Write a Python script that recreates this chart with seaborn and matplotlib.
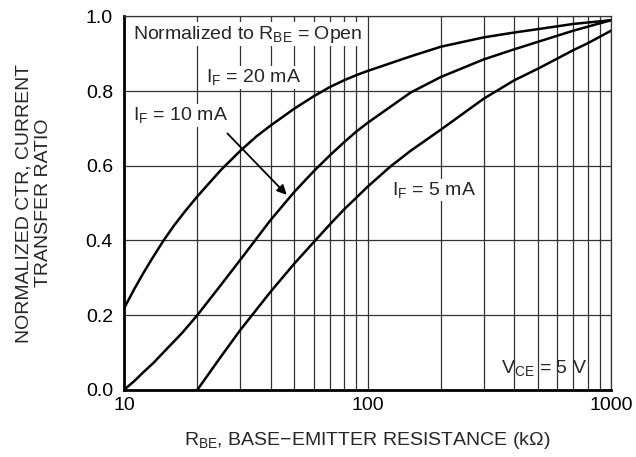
import numpy as np
import pandas as pd
import matplotlib
matplotlib.use('Agg')
import matplotlib.pyplot as plt
import seaborn as sns
from matplotlib.ticker import LogLocator, FixedLocator, NullFormatter

# values (R_BE in kOhm, normalized CTR)
r_20 = [10, 11, 12, 13, 14.5, 16, 17.8, 20, 25, 30, 35, 40, 50, 60, 70, 80, 90, 100, 150, 200, 300, 400, 500, 700, 1000]
ctr_20 = [0.218, 0.269, 0.3125, 0.350, 0.399, 0.439, 0.478, 0.518, 0.589, 0.64, 0.679, 0.708, 0.753, 0.786, 0.811,
          0.829, 0.843, 0.854, 0.893, 0.919, 0.944, 0.957, 0.966, 0.98, 0.99]

r_10 = [10, 11, 12, 13.2, 15, 17.3, 20, 25, 30, 40, 50, 60, 70, 80, 90, 100, 150, 200, 300, 400, 500, 700, 1000]
ctr_10 = [0.0, 0.023, 0.047, 0.072, 0.11, 0.152, 0.2, 0.281, 0.348, 0.455, 0.53, 0.585, 0.628, 0.663, 0.692, 0.715,
          0.796, 0.838, 0.885, 0.912, 0.932, 0.962, 0.99]

r_5 = [20, 25, 30, 40, 50, 60, 70, 80, 90, 100, 124, 150, 200, 300, 400, 500, 600, 700, 800, 1000]
ctr_5 = [0.0, 0.089, 0.16, 0.263, 0.338, 0.395, 0.443, 0.483, 0.515, 0.544, 0.598, 0.64, 0.697, 0.78,
         0.829, 0.86, 0.887, 0.91, 0.928, 0.962]

df = pd.concat([
    pd.DataFrame({'R': r_20, 'CTR': ctr_20, 'IF': '20 mA'}),
    pd.DataFrame({'R': r_10, 'CTR': ctr_10, 'IF': '10 mA'}),
    pd.DataFrame({'R': r_5, 'CTR': ctr_5, 'IF': '5 mA'}),
])

sns.set_theme(style='white')
plt.rcParams['font.family'] = ['Liberation Sans', 'DejaVu Sans']
plt.rcParams['mathtext.fontset'] = 'custom'
plt.rcParams['mathtext.rm'] = 'Liberation Sans'
fs = 14

fig, ax = plt.subplots(figsize=(6.36, 4.57), dpi=100)
fig.subplots_adjust(left=0.195, right=0.961, top=0.964, bottom=0.147)

sns.lineplot(data=df, x='R', y='CTR', units='IF', estimator=None, color='black',
             lw=1.8, ax=ax, legend=False, sort=False)

ax.set_xscale('log')
ax.set_xlim(10, 1000)
ax.set_ylim(0, 1.0)
ax.xaxis.set_major_locator(FixedLocator([10, 100, 1000]))
ax.set_xticklabels(['10', '100', '1000'])
ax.xaxis.set_minor_locator(LogLocator(base=10, subs=np.arange(2, 10)))
ax.xaxis.set_minor_formatter(NullFormatter())
ax.set_yticks(np.arange(0, 1.01, 0.2))
ax.set_yticklabels([f'{v:.1f}' for v in np.arange(0, 1.01, 0.2)])
ax.tick_params(which='both', length=0, labelsize=fs, colors='black')
ax.tick_params(axis='y', pad=8)
ax.tick_params(axis='x', pad=5)

ax.grid(which='both', color='#333333', lw=0.9)
for s in ['top', 'right']:
    ax.spines[s].set_linewidth(0.9)
    ax.spines[s].set_color('#333333')
for s in ['left', 'bottom']:
    ax.spines[s].set_linewidth(2.0)
    ax.spines[s].set_color('black')

ax.set_xlabel(r'$\mathregular{R_{BE}}$, BASE−EMITTER RESISTANCE (kΩ)', fontsize=fs, labelpad=12)
ax.set_ylabel('NORMALIZED CTR, CURRENT\nTRANSFER RATIO', fontsize=fs, labelpad=24, linespacing=1.25)

box = dict(facecolor='white', edgecolor='none', pad=1)
ax.text(10.9, 0.953, r'Normalized to $\mathregular{R_{BE}}$ = Open', fontsize=fs, va='center', bbox=box)
ax.text(21.7, 0.837, r'$\mathregular{I_F}$ = 20 mA', fontsize=fs, va='center', bbox=box)
ax.text(10.85, 0.735, r'$\mathregular{I_F}$ = 10 mA', fontsize=fs, va='center', bbox=box)
ax.text(126, 0.535, r'$\mathregular{I_F}$ = 5 mA', fontsize=fs, va='center', bbox=box)
ax.text(352, 0.059, r'$\mathregular{V_{CE}}$ = 5 V', fontsize=fs, va='center')

ax.annotate('', xy=(47.4, 0.517), xytext=(26.1, 0.692),
            arrowprops=dict(arrowstyle='-|>', color='black', lw=1.3, mutation_scale=14))

fig.savefig('out.png', dpi=100)
